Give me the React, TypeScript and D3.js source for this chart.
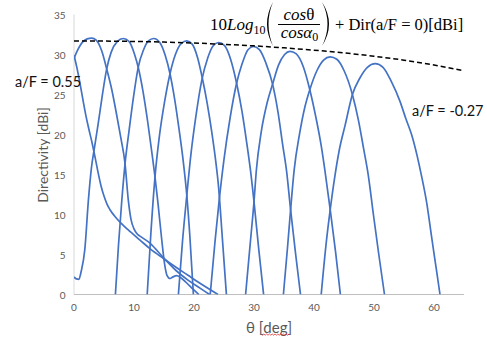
import React from "react";
import * as d3 from "d3";

type Pt = [number, number];

// theta [deg], directivity [dBi]
const beamAF055: Pt[] = [[0,29.9],[0.5,28.3],[1,26.4],[1.5,24.3],[2,22.3],[2.5,20.6],[3,19.0],[3.5,17.2],[4,15.3],[4.5,13.6],[5,12.3],[5.5,11.3],[6,10.6],[7,9.6],[8,8.8],[9,8.1],[11,6.8],[12.7,5.7],[14.9,4.5],[17,3.4],[19,2.4],[21,1.4],[24,0]];
const beam1: Pt[] = [[0,29.5],[0.5,30.4],[1,31.1],[1.5,31.6],[2.2,31.95],[2.95,32.05],[3.7,31.8],[4.6,30.5],[5.45,28.2],[6.3,25.6],[7.1,22.5],[7.8,19.6],[8.5,16.4],[9.05,11.8],[9.5,9.4],[10,8.2],[10.5,7.6],[11,7.3],[12.7,6.4],[14.9,4.6],[17,3.0],[19,1.8],[21,0.8],[22.6,0]];
const beam2: Pt[] = [[0,2.2],[0.4,1.95],[0.8,1.9],[1.2,2.9],[1.8,5.6],[2.4,11.8],[2.9,15.8],[3.4,18.3],[4,21.2],[4.7,24.8],[5.45,28.2],[6.2,30.3],[7.2,31.6],[8.2,32.0],[9.2,31.6],[10.1,30.0],[10.7,28.4],[11.5,25.4],[12.3,21.5],[13,17.6],[13.5,14.7],[14,11.4],[14.6,7.0],[15.1,3.8],[15.5,2.4],[16,2.0],[16.5,2.2],[17.1,2.35],[17.8,2.1],[18.7,1.5],[19.8,0.7],[20.8,0]];
const beam3: Pt[] = [[6.9,0],[7.4,6.0],[7.95,11.6],[8.5,16.3],[9.2,20.6],[9.9,24.6],[10.7,28.4],[11.6,30.6],[12.4,31.7],[13.3,32.0],[14.3,31.5],[15.2,29.9],[16,27.6],[16.8,24.3],[17.5,20.7],[18.2,16.7],[18.8,12.4],[19.3,7.4],[19.9,0]];
const beam4: Pt[] = [[12.2,0],[12.8,7.5],[13.5,14.7],[14.2,19.6],[15.1,24.1],[16,27.6],[16.9,30.0],[17.9,31.4],[18.8,31.7],[19.7,31.3],[20.6,29.6],[21.4,27.0],[22.2,23.9],[23,20.1],[23.6,16.8],[24.1,13.4],[24.7,7.3],[25.4,0]];
const beam5: Pt[] = [[17.4,0],[18.1,6.8],[18.8,12.4],[19.5,17.6],[20.3,22.2],[21.3,26.8],[22.3,29.6],[23.2,31.1],[24.1,31.5],[25.1,31.1],[26.1,29.4],[27.1,26.4],[28,22.9],[28.8,18.9],[29.4,15.6],[30,11.6],[30.8,5.6],[31.6,0]];
const beam6: Pt[] = [[22.7,0],[23.5,6.6],[24.2,11.8],[25,16.9],[26,22.0],[27.1,26.4],[28,28.8],[29,30.6],[29.9,31.0],[30.9,30.6],[32,28.9],[33.1,26.3],[34,22.8],[34.8,18.6],[35.4,15.6],[36.1,10.6],[36.9,5.3],[37.75,0]];
const beam7: Pt[] = [[28.6,0],[29.4,6.6],[30,11.6],[30.4,15.6],[31.2,20.3],[32.2,24.0],[33.1,26.3],[34.1,28.7],[35.1,30.0],[36,30.4],[37,30.1],[38.2,28.5],[39.3,25.6],[40.3,22.2],[41.2,18.6],[41.8,15.6],[42.7,10.6],[43.6,5.3],[44.4,0]];
const beam8: Pt[] = [[34.9,0],[35.6,6.0],[36.1,10.6],[36.7,15.6],[37.6,20.1],[38.5,23.5],[39.3,25.6],[40.5,28.0],[41.6,29.3],[42.7,29.7],[43.8,29.4],[45,28.0],[46.4,25.0],[47.4,21.8],[48.3,18.1],[49.05,14.9],[49.9,10.0],[50.8,5.0],[51.75,0]];
const beamAFm027: Pt[] = [[41.2,0],[42,6.2],[42.7,10.6],[43.5,14.9],[44.2,18.0],[45.2,21.2],[46.4,25.0],[47.6,27.0],[48.9,28.4],[50.2,28.85],[51.5,28.4],[52.9,26.6],[54.3,24.2],[55.3,22.0],[56.3,19.9],[57.2,17.3],[57.9,14.9],[58.8,11.4],[59.6,7.2],[60.4,3.1],[61,0]];

const beams: Pt[][] = [beamAF055, beam1, beam2, beam3, beam4, beam5, beam6, beam7, beam8, beamAFm027];

// envelope 10Log10(cos θ / cos α0) + Dir(a/F = 0)
const envTheta = [0, 5, 10, 15, 20, 25, 30, 35, 40, 45, 50, 55, 60, 64.8];
const envValue = [31.7, 31.68, 31.63, 31.55, 31.43, 31.27, 31.08, 30.83, 30.54, 30.2, 29.78, 29.29, 28.69, 27.99];

const xTicks = [0, 10, 20, 30, 40, 50, 60];
const yTicks = [0, 5, 10, 15, 20, 25, 30, 35];

const W = 487, H = 346;

export default function App() {
  const x = d3.scaleLinear().domain([0, 65]).range([74, 464]);
  const y = d3.scaleLinear().domain([0, 35]).range([294.5, 14.5]);

  const line = d3.line<Pt>().x(d => x(d[0])).y(d => y(d[1])).curve(d3.curveMonotoneX);
  const envPts: Pt[] = envTheta.map((t, i) => [t, envValue[i]]);

  const gray = "#595959";
  const sans = "Lato, 'Open Sans', sans-serif";
  const serif = "'Liberation Serif', 'DejaVu Serif', serif";

  // red spell-check squiggle under "deg"
  const sq: string[] = [];
  for (let i = 0; i <= 20; i++) {
    const px = 261 + i * 1.4;
    const py = 334 + (i % 2 === 0 ? 0 : 1.2);
    sq.push(`${i === 0 ? "M" : "L"}${px},${py}`);
  }

  return (
    <svg width={W} height={H} style={{ position: "absolute", left: 0, top: 0, background: "#fff" }}>
      <defs>
        <clipPath id="plot">
          <rect x={x(0)} y={y(35) - 2} width={x(65) - x(0)} height={y(0) - y(35) + 2} />
        </clipPath>
      </defs>

      {/* axes */}
      <line x1={x(0)} x2={x(0)} y1={y(35)} y2={y(0)} stroke="#d9d9d9" strokeWidth={1} />
      <line x1={x(0)} x2={x(65)} y1={y(0)} y2={y(0)} stroke="#bfbfbf" strokeWidth={1} />

      {yTicks.map(t => (
        <text key={"y" + t} x={65.5} y={y(t)} textAnchor="end" dominantBaseline="central"
          fontFamily={sans} fontSize={10} fill={gray}>{t}</text>
      ))}
      {xTicks.map(t => (
        <text key={"x" + t} x={x(t)} y={306.5} textAnchor="middle" dominantBaseline="central"
          fontFamily={sans} fontSize={10} fill={gray}>{t}</text>
      ))}

      <text transform="translate(42.5,155) rotate(-90)" textAnchor="middle" dominantBaseline="central"
        fontFamily={sans} fontSize={14} fill={gray}>Directivity [dBi]</text>
      <text x={269} y={326.5} textAnchor="middle" dominantBaseline="central"
        fontFamily={sans} fontSize={15} fill={gray}>θ [deg]</text>
      <path d={sq.join("")} fill="none" stroke="#e03030" strokeWidth={0.8} />

      {/* beams */}
      <g clipPath="url(#plot)">
        {beams.map((b, i) => (
          <path key={i} d={line(b) || ""} fill="none" stroke="#4472C4" strokeWidth={1.7} />
        ))}
        <path d={line(envPts) || ""} fill="none" stroke="#000" strokeWidth={1.5} strokeDasharray="5 3" />
      </g>

      {/* labels */}
      <text x={15} y={81.5} dominantBaseline="central" fontFamily={sans} fontSize={14.5} fill="#111">a/F = 0.55</text>
      <text x={412} y={110} dominantBaseline="central" fontFamily={sans} fontSize={14.5} fill="#111">a/F = -0.27</text>

      {/* formula */}
      <g fontFamily={serif} fill="#000">
        <text x={210} y={29.5} fontSize={17}>
          <tspan>10</tspan>
          <tspan fontStyle="italic">Log</tspan>
          <tspan fontSize={12} dy={4}>10</tspan>
        </text>
        <path d="M273,2 Q261,24 273,46 Q264,24 273,2 Z" fill="#000" />
        <text x={299} y={19.5} fontSize={17} textAnchor="middle">
          <tspan fontStyle="italic">cos</tspan><tspan>θ</tspan>
        </text>
        <line x1={278} x2={320} y1={24.5} y2={24.5} stroke="#000" strokeWidth={1} />
        <text x={299.5} y={38} fontSize={17} textAnchor="middle">
          <tspan fontStyle="italic">cosα</tspan><tspan fontSize={12} dy={3}>0</tspan>
        </text>
        <path d="M322,2 Q336,24 322,46 Q333,24 322,2 Z" fill="#000" />
        <text x={335} y={30} fontSize={16.5}>+ Dir(a/F = 0)[dBi]</text>
      </g>
    </svg>
  );
}
